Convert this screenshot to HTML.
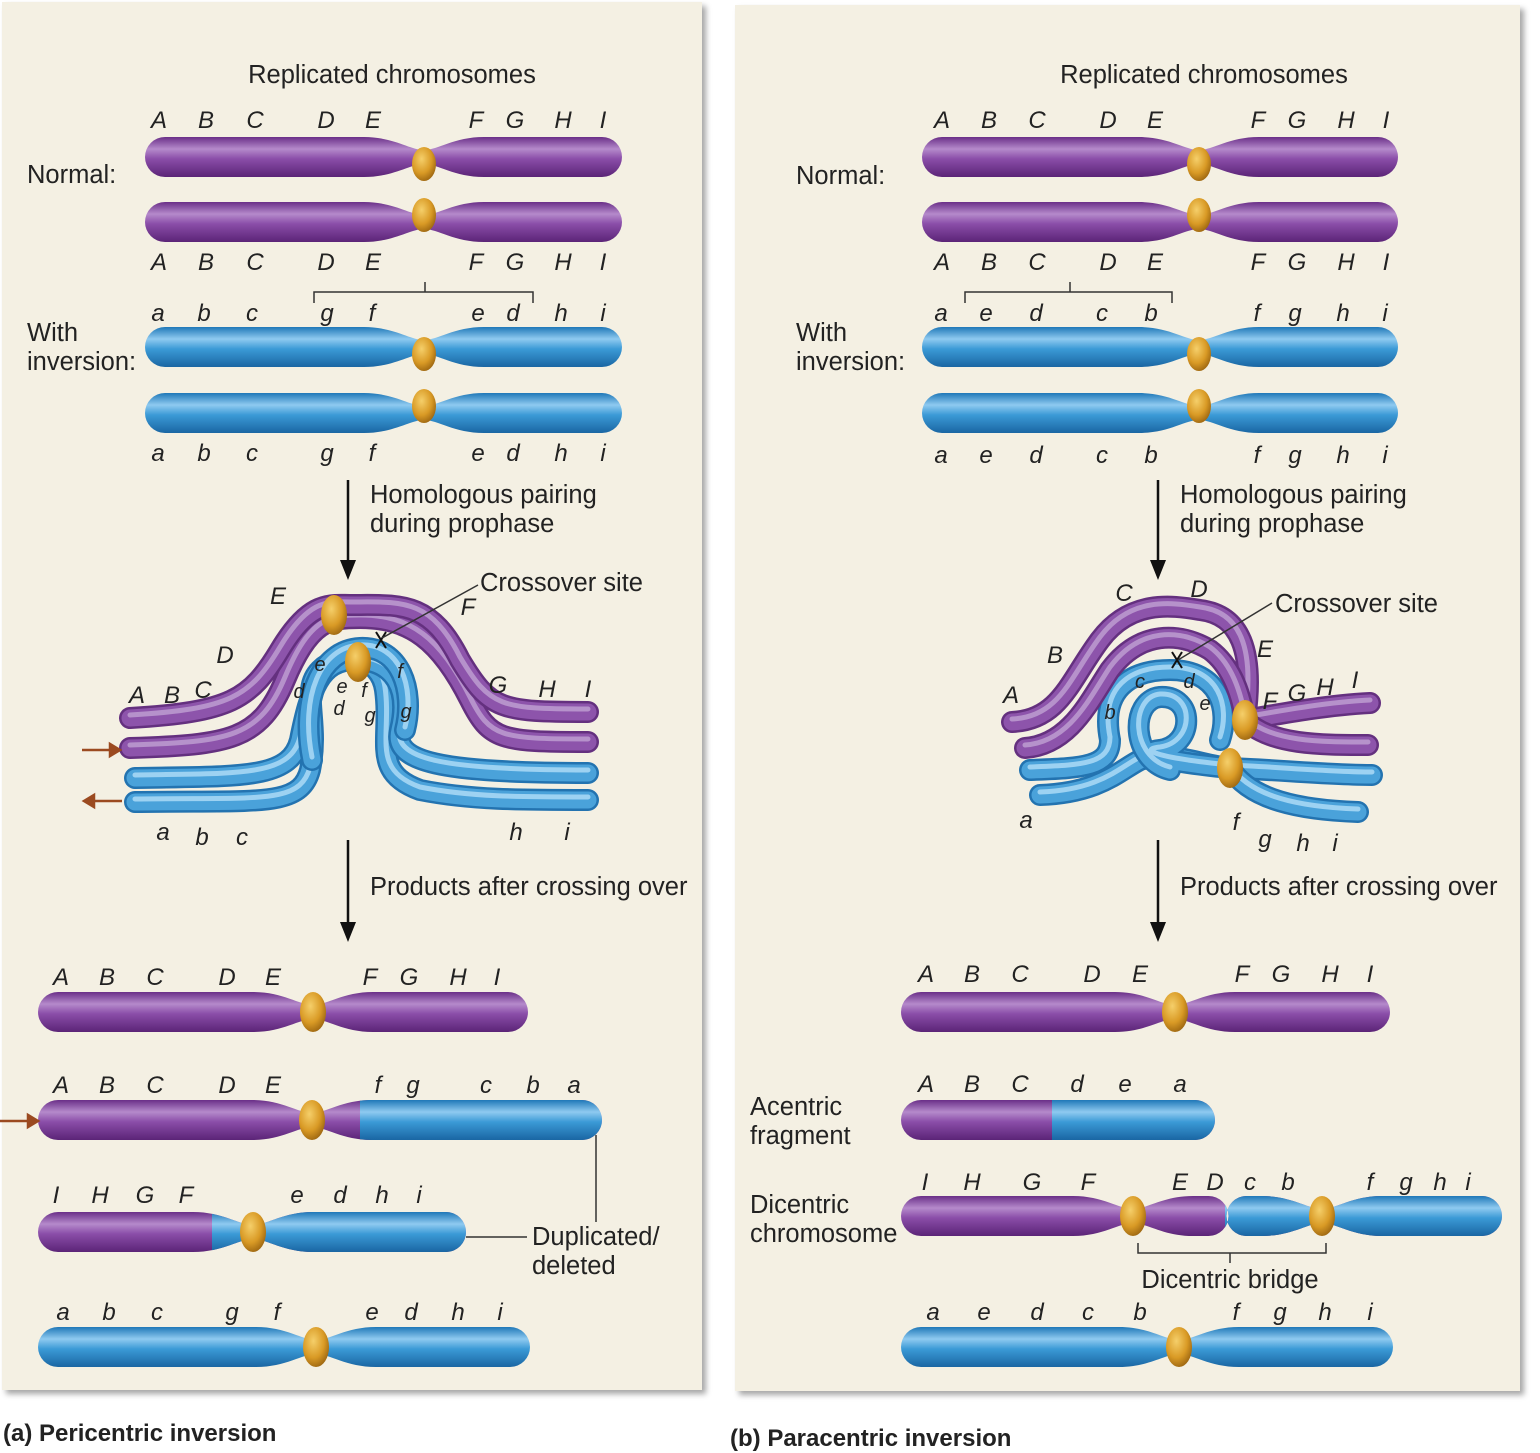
<!DOCTYPE html>
<html><head><meta charset="utf-8"><style>
html,body{margin:0;padding:0;background:#fff}
svg{display:block}
text{font-family:"Liberation Sans",sans-serif;fill:#222}
.L{font-style:italic;font-size:24px;text-anchor:middle}
.s{font-size:25.5px}
.b{font-weight:bold;font-size:24px}
</style></head><body>
<svg id="sv" width="1540" height="1453" viewBox="0 0 1540 1453" xmlns="http://www.w3.org/2000/svg">
<defs>
<linearGradient id="gp" x1="0" y1="0" x2="0" y2="1"><stop offset="0" stop-color="#6a2f88"/><stop offset=".3" stop-color="#b58acb"/><stop offset=".55" stop-color="#8a4da8"/><stop offset="1" stop-color="#5b2477"/></linearGradient>
<linearGradient id="gb" x1="0" y1="0" x2="0" y2="1"><stop offset="0" stop-color="#1f78b8"/><stop offset=".3" stop-color="#8fcaf0"/><stop offset=".55" stop-color="#3b9ad6"/><stop offset="1" stop-color="#1a66a3"/></linearGradient>
<radialGradient id="go" cx=".4" cy=".35" r=".7"><stop offset="0" stop-color="#f5cf6a"/><stop offset=".6" stop-color="#d99a25"/><stop offset="1" stop-color="#9a6410"/></radialGradient>
<filter id="sh"><feDropShadow dx="4" dy="4" stdDeviation="3" flood-color="#000" flood-opacity=".35"/></filter>
</defs>
<rect x="2" y="2" width="700" height="1388" fill="#f4f0e3" filter="url(#sh)"/>
<rect x="735" y="5" width="785" height="1386" fill="#f4f0e3" filter="url(#sh)"/>
<g id="shapes"></g>

<!-- LEFT texts -->
<text class="s" x="392" y="83" text-anchor="middle">Replicated chromosomes</text>
<text class="s" x="27" y="183">Normal:</text>
<text class="s" x="27" y="341">With</text><text class="s" x="27" y="370">inversion:</text>
<g class="L">
<text x="159" y="128">A</text><text x="206" y="128">B</text><text x="255" y="128">C</text><text x="326" y="128">D</text><text x="373" y="128">E</text><text x="476" y="128">F</text><text x="515" y="128">G</text><text x="563" y="128">H</text><text x="603" y="128">I</text>
<text x="159" y="270">A</text><text x="206" y="270">B</text><text x="255" y="270">C</text><text x="326" y="270">D</text><text x="373" y="270">E</text><text x="476" y="270">F</text><text x="515" y="270">G</text><text x="563" y="270">H</text><text x="603" y="270">I</text>
<text x="158" y="321">a</text><text x="204" y="321">b</text><text x="252" y="321">c</text><text x="327" y="321">g</text><text x="372" y="321">f</text><text x="478" y="321">e</text><text x="513" y="321">d</text><text x="561" y="321">h</text><text x="603" y="321">i</text>
<text x="158" y="461">a</text><text x="204" y="461">b</text><text x="252" y="461">c</text><text x="327" y="461">g</text><text x="372" y="461">f</text><text x="478" y="461">e</text><text x="513" y="461">d</text><text x="561" y="461">h</text><text x="603" y="461">i</text>
<text x="278" y="604">E</text><text x="468" y="615">F</text><text x="225" y="663">D</text><text x="137" y="703">A</text><text x="172" y="703">B</text><text x="203" y="698">C</text><text x="498" y="693">G</text><text x="547" y="697">H</text><text x="588" y="697">I</text>
<text x="320" y="671" font-size="20">e</text><text x="299" y="698" font-size="20">d</text><text x="342" y="693" font-size="20">e</text><text x="364" y="697" font-size="20">f</text><text x="339" y="715" font-size="20">d</text><text x="370" y="722" font-size="20">g</text><text x="400" y="678" font-size="20">f</text><text x="406" y="718" font-size="20">g</text>
<text x="163" y="840">a</text><text x="202" y="845">b</text><text x="242" y="845">c</text><text x="516" y="840">h</text><text x="567" y="840">i</text>
<text x="61" y="985">A</text><text x="107" y="985">B</text><text x="155" y="985">C</text><text x="227" y="985">D</text><text x="273" y="985">E</text><text x="370" y="985">F</text><text x="409" y="985">G</text><text x="458" y="985">H</text><text x="497" y="985">I</text>
<text x="61" y="1093">A</text><text x="107" y="1093">B</text><text x="155" y="1093">C</text><text x="227" y="1093">D</text><text x="273" y="1093">E</text><text x="378" y="1093">f</text><text x="413" y="1093">g</text><text x="486" y="1093">c</text><text x="533" y="1093">b</text><text x="574" y="1093">a</text>
<text x="56" y="1203">I</text><text x="100" y="1203">H</text><text x="145" y="1203">G</text><text x="186" y="1203">F</text><text x="297" y="1203">e</text><text x="340" y="1203">d</text><text x="382" y="1203">h</text><text x="419" y="1203">i</text>
<text x="63" y="1320">a</text><text x="109" y="1320">b</text><text x="157" y="1320">c</text><text x="232" y="1320">g</text><text x="277" y="1320">f</text><text x="372" y="1320">e</text><text x="411" y="1320">d</text><text x="458" y="1320">h</text><text x="500" y="1320">i</text>
</g>
<text class="s" x="370" y="503">Homologous pairing</text><text class="s" x="370" y="532">during prophase</text>
<text class="s" x="480" y="591">Crossover site</text>
<text class="s" x="370" y="895">Products after crossing over</text>
<text class="s" x="532" y="1245">Duplicated/</text><text class="s" x="532" y="1274">deleted</text>
<text class="b" x="3" y="1441">(a) Pericentric inversion</text>

<!-- RIGHT texts -->
<text class="s" x="1204" y="83" text-anchor="middle">Replicated chromosomes</text>
<text class="s" x="796" y="184">Normal:</text>
<text class="s" x="796" y="341">With</text><text class="s" x="796" y="370">inversion:</text>
<g class="L">
<text x="942" y="128">A</text><text x="989" y="128">B</text><text x="1037" y="128">C</text><text x="1108" y="128">D</text><text x="1155" y="128">E</text><text x="1258" y="128">F</text><text x="1297" y="128">G</text><text x="1346" y="128">H</text><text x="1386" y="128">I</text>
<text x="942" y="270">A</text><text x="989" y="270">B</text><text x="1037" y="270">C</text><text x="1108" y="270">D</text><text x="1155" y="270">E</text><text x="1258" y="270">F</text><text x="1297" y="270">G</text><text x="1346" y="270">H</text><text x="1386" y="270">I</text>
<text x="941" y="321">a</text><text x="986" y="321">e</text><text x="1036" y="321">d</text><text x="1102" y="321">c</text><text x="1151" y="321">b</text><text x="1257" y="321">f</text><text x="1295" y="321">g</text><text x="1343" y="321">h</text><text x="1385" y="321">i</text>
<text x="941" y="463">a</text><text x="986" y="463">e</text><text x="1036" y="463">d</text><text x="1102" y="463">c</text><text x="1151" y="463">b</text><text x="1257" y="463">f</text><text x="1295" y="463">g</text><text x="1343" y="463">h</text><text x="1385" y="463">i</text>
<text x="1124" y="601">C</text><text x="1199" y="597">D</text><text x="1055" y="663">B</text><text x="1265" y="657">E</text><text x="1011" y="703">A</text><text x="1270" y="709">F</text><text x="1297" y="701">G</text><text x="1325" y="695">H</text><text x="1355" y="688">I</text>
<text x="1140" y="688" font-size="20">c</text><text x="1189" y="688" font-size="20">d</text><text x="1110" y="719" font-size="20">b</text><text x="1205" y="710" font-size="20">e</text>
<text x="1026" y="828">a</text><text x="1236" y="830">f</text><text x="1265" y="847">g</text><text x="1303" y="851">h</text><text x="1335" y="851">i</text>
<text x="926" y="982">A</text><text x="972" y="982">B</text><text x="1020" y="982">C</text><text x="1092" y="982">D</text><text x="1140" y="982">E</text><text x="1242" y="982">F</text><text x="1281" y="982">G</text><text x="1330" y="982">H</text><text x="1370" y="982">I</text>
<text x="926" y="1092">A</text><text x="972" y="1092">B</text><text x="1020" y="1092">C</text><text x="1077" y="1092">d</text><text x="1125" y="1092">e</text><text x="1180" y="1092">a</text>
<text x="925" y="1190">I</text><text x="972" y="1190">H</text><text x="1032" y="1190">G</text><text x="1088" y="1190">F</text><text x="1180" y="1190">E</text><text x="1215" y="1190">D</text><text x="1250" y="1190">c</text><text x="1288" y="1190">b</text><text x="1370" y="1190">f</text><text x="1406" y="1190">g</text><text x="1440" y="1190">h</text><text x="1468" y="1190">i</text>
<text x="933" y="1320">a</text><text x="984" y="1320">e</text><text x="1037" y="1320">d</text><text x="1088" y="1320">c</text><text x="1140" y="1320">b</text><text x="1236" y="1320">f</text><text x="1280" y="1320">g</text><text x="1325" y="1320">h</text><text x="1370" y="1320">i</text>
</g>
<text class="s" x="1180" y="503">Homologous pairing</text><text class="s" x="1180" y="532">during prophase</text>
<text class="s" x="1275" y="612">Crossover site</text>
<text class="s" x="1180" y="895">Products after crossing over</text>
<text class="s" x="750" y="1115">Acentric</text><text class="s" x="750" y="1144">fragment</text>
<text class="s" x="750" y="1213">Dicentric</text><text class="s" x="750" y="1242">chromosome</text>
<text class="s" x="1230" y="1288" text-anchor="middle">Dicentric bridge</text>
<text class="b" x="730" y="1446">(b) Paracentric inversion</text>

<g stroke="#333" stroke-width="1.5" fill="none">
<path d="M314,303 V292 H533 V303 M425,292 V282"/>
<path d="M965,303 V292 H1172 V303 M1070,292 V282"/>
<path d="M1138,1243 V1253 H1326 V1243 M1230,1253 V1263"/>
<path d="M466,1237 H527 M596,1135 V1222"/>
<path d="M382,638 L478,585"/><path d="M1178,660 L1272,603"/>
</g>
<g stroke="#111" stroke-width="2.5">
<line x1="348" y1="480" x2="348" y2="565"/><line x1="348" y1="840" x2="348" y2="928"/>
<line x1="1158" y1="480" x2="1158" y2="565"/><line x1="1158" y1="840" x2="1158" y2="928"/>
</g>
<g fill="#111">
<path d="M340,560 L356,560 L348,580Z"/><path d="M340,922 L356,922 L348,942Z"/>
<path d="M1150,560 L1166,560 L1158,580Z"/><path d="M1150,922 L1166,922 L1158,942Z"/>
</g>
<g stroke="#9b4a20" stroke-width="2.5" fill="#9b4a20">
<line x1="82" y1="750" x2="112" y2="750"/><path d="M110,744 L120,750 L110,756Z"/>
<line x1="92" y1="801" x2="122" y2="801"/><path d="M94,795 L84,801 L94,807Z"/>
<line x1="0" y1="1121" x2="30" y2="1121"/><path d="M28,1115 L38,1121 L28,1127Z"/>
</g>
</svg>
<script>
var NS="http://www.w3.org/2000/svg",G=document.getElementById("shapes");
function el(t,a,p){var e=document.createElementNS(NS,t);for(var k in a)e.setAttribute(k,a[k]);(p||G).appendChild(e);return e;}
var cid=0;
function arm(x1,x2,y,h,fromLeft){
 var r=h/2,t=y-r,b=y+r,p=7;
 if(fromLeft) return "M"+(x1+r)+","+t+" L"+(x2-60)+","+t+" C"+(x2-30)+","+t+" "+(x2-14)+","+(y-p)+" "+x2+","+(y-p)+" L"+x2+","+(y+p)+" C"+(x2-14)+","+(y+p)+" "+(x2-30)+","+b+" "+(x2-60)+","+b+" L"+(x1+r)+","+b+" A"+r+","+r+" 0 0 1 "+(x1+r)+","+t+"Z";
 return "M"+(x2-r)+","+t+" L"+(x1+60)+","+t+" C"+(x1+30)+","+t+" "+(x1+14)+","+(y-p)+" "+x1+","+(y-p)+" L"+x1+","+(y+p)+" C"+(x1+14)+","+(y+p)+" "+(x1+30)+","+b+" "+(x1+60)+","+b+" L"+(x2-r)+","+b+" A"+r+","+r+" 0 0 0 "+(x2-r)+","+t+"Z";
}
function capsule(x1,x2,y,h){var r=h/2;return "M"+(x1+r)+","+(y-r)+" H"+(x2-r)+" A"+r+","+r+" 0 0 1 "+(x2-r)+","+(y+r)+" H"+(x1+r)+" A"+r+","+r+" 0 0 1 "+(x1+r)+","+(y-r)+"Z";}
function cen(x,y){el("ellipse",{cx:x,cy:y,rx:13,ry:20,fill:"url(#go)"});}
function chrom(x1,x2,y,cents,colL,split,colR,nocen){
 var h=40,d=[];var pts=[x1].concat(cents).concat([x2]);
 for(var i=0;i<pts.length-1;i++){
  var a=pts[i],b=pts[i+1];
  if(pts.length==2) d.push(capsule(a,b,y,h));
  else if(i==0) d.push(arm(a,b,y,h,true));
  else if(i==pts.length-2) d.push(arm(a,b,y,h,false));
  else {d.push(arm(a,(a+b)/2+1,y,h,false));d.push(arm((a+b)/2-1,b,y,h,true));}
 }
 var path=d.join(" ");
 el("path",{d:path,fill:"url(#g"+colL+")"});
 if(split){cid++;var cp=el("clipPath",{id:"c"+cid});el("rect",{x:split,y:y-30,width:2000,height:60},cp);
  el("path",{d:path,fill:"url(#g"+colR+")","clip-path":"url(#c"+cid+")"});}
 if(!nocen) cents.forEach(function(c){cen(c,y);});
}
function pair(x1,x2,c,y1,y2,col){chrom(x1,x2,y1,[c],col,0,0,1);chrom(x1,x2,y2,[c],col,0,0,1);
 el("ellipse",{cx:c,cy:y1+7,rx:12,ry:17,fill:"url(#go)"});el("ellipse",{cx:c,cy:y2-7,rx:12,ry:17,fill:"url(#go)"});}
pair(145,622,424,157,222,"p");pair(145,622,424,347,413,"b");
pair(922,1398,1199,157,222,"p");pair(922,1398,1199,347,413,"b");
chrom(38,528,1012,[313],"p");
chrom(38,602,1120,[312],"p",360,"b");
chrom(38,466,1232,[253],"p",212,"b");
chrom(38,530,1347,[316],"b");
chrom(901,1390,1012,[1175],"p");
chrom(901,1215,1120,[],"p",1052,"b");
chrom(901,1502,1216,[1133,1322],"p",1225,"b");
chrom(901,1393,1347,[1179],"b");
function tube(d,col){
 el("path",{d:d,fill:"none",stroke:col=="p"?"#64307f":"#2373b0","stroke-width":22,"stroke-linecap":"round"});
 el("path",{d:d,fill:"none",stroke:col=="p"?"#8d54ab":"#4aa2da","stroke-width":17,"stroke-linecap":"round"});
 el("path",{d:d,fill:"none",stroke:col=="p"?"#b692cb":"#9dd2f2","stroke-width":5,"stroke-linecap":"round",transform:"translate(0,-3)"});
}
tube("M135,802 C260,800 300,808 310,770 C320,720 300,690 320,670 C340,650 380,655 385,690 C392,740 370,772 420,790 C470,800 520,800 588,800","b");
tube("M135,778 C240,776 290,780 300,740 C310,690 320,660 355,660 C395,660 410,690 400,730 C392,762 440,773 588,773","b");
tube("M312,760 C300,700 320,650 360,648 C400,646 415,690 405,730","b");
tube("M130,748 C230,745 260,740 285,680 C310,620 330,618 360,618 C410,618 440,640 470,700 C490,740 500,742 588,742","p");
tube("M130,718 C230,712 250,700 280,650 C310,600 330,605 350,605 C400,605 430,600 460,660 C490,710 500,712 588,712","p");
cen(334,615);cen(358,662);
tube("M1040,795 C1100,793 1120,770 1140,760 C1170,750 1200,765 1230,768","b");
tube("M1030,770 C1080,768 1110,768 1110,740 C1100,690 1130,670 1170,670 C1220,670 1230,710 1220,740","b");
tube("M1170,770 C1130,760 1130,700 1160,697 C1195,695 1195,745 1160,750 C1140,752 1150,760 1230,768","b");
tube("M1230,768 C1280,770 1330,775 1372,775","b");
tube("M1230,768 C1250,800 1300,810 1358,812","b");
tube("M1012,722 C1060,720 1070,680 1100,640 C1130,600 1170,605 1200,610 C1240,615 1255,650 1245,720","p");
tube("M1025,748 C1070,745 1090,700 1110,670 C1140,630 1180,632 1210,650 C1230,665 1240,690 1245,720","p");
tube("M1245,720 C1290,712 1330,705 1370,703","p");
tube("M1245,720 C1270,745 1320,745 1368,745","p");
cen(1245,720);cen(1230,768);
el("path",{d:"M376,632 L386,648 M386,632 L376,648",stroke:"#111","stroke-width":2});
el("path",{d:"M1172,652 L1182,668 M1182,652 L1172,668",stroke:"#111","stroke-width":2});
</script>
</body></html>
